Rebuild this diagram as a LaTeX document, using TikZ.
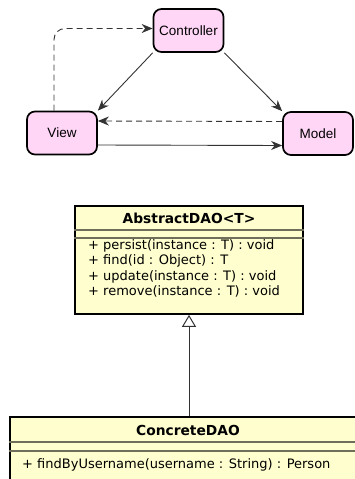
\documentclass[tikz,border=0pt]{standalone}
\usepackage{fontspec}
\newfontfamily\mvcfont{Liberation Sans}
\newfontfamily\umlfont{DejaVu Sans}
\usetikzlibrary{arrows.meta,positioning}

\definecolor{mvcpink}{RGB}{255,214,246}
\definecolor{umlyellow}{RGB}{254,254,206}
\definecolor{umlrule}{RGB}{110,110,90}
\definecolor{edgegray}{RGB}{51,51,51}

\tikzset{
  mvcnode/.style={draw=black, fill=mvcpink, line width=1.7pt, rounded corners=8pt,
    minimum width=70pt, minimum height=43pt, inner sep=0pt,
    font=\mvcfont\fontsize{13.5}{15}\selectfont},
  flow/.style={draw=edgegray, line width=0.9pt, -{Stealth[length=11pt,width=9pt,inset=3.5pt]}},
  notify/.style={flow, dash pattern=on 6pt off 4pt},
  classbox/.style={draw=black, fill=umlyellow, line width=1.7pt, inner sep=0pt},
  classrule/.style={draw=umlrule, line width=1.2pt},
  classtitle/.style={font=\umlfont\bfseries\fontsize{13.8}{16}\selectfont, inner sep=0pt},
  classops/.style={font=\umlfont\fontsize{13}{15.5}\selectfont, align=left,
    inner sep=0pt, anchor=north west},
  extends/.style={draw=edgegray, line width=1pt, -{Triangle[open, fill=white, length=12pt, width=14pt]}},
}

\begin{document}
\begin{tikzpicture}[x=1pt,y=-1pt]
\useasboundingbox (0,0) rectangle (355,479);
\clip (0,0) rectangle (355,479);

% Draw the MVC triangle
\node[mvcnode] (ctrl) at (188.5,30.5) {Controller};
\node[mvcnode] (view) at (62,133) {View};
\node[mvcnode] (model) at (318,133.5) {Model};

% Connectors between the parts
\draw[flow] (ctrl.south west) -- (view.north east);
\draw[flow] (ctrl.south east) -- (model.north west);
\draw[flow] ([yshift=-12pt]view.east) -- ([yshift=-12pt]model.west);
\draw[notify] ([yshift=12pt]model.west) -- ([yshift=12pt]view.east); % change notification
\draw[notify, rounded corners=11pt] ([xshift=-8pt]view.north) |- ([yshift=2pt]ctrl.west); % user input

% Draw the abstract class
\node[classbox, minimum width=228pt, minimum height=108pt] (abs) at (189,260) {};
\node[classtitle] (absname) at (189,218) {AbstractDAO<T>};
\draw[classrule] (abs.west |- 0,230) -- (abs.east |- 0,230);
\draw[classrule] (abs.west |- 0,238) -- (abs.east |- 0,238);
\node[classops] (absops) at (88,239) {+ persist(instance : T) : void\\
  + find(id : Object) : T\\
  + update(instance : T) : void\\
  + remove(instance : T) : void};

% Draw the concrete class
\node[classbox, minimum width=356pt, minimum height=80pt] (con) at (188,457) {};
\node[classtitle] (conname) at (188,430) {ConcreteDAO};
\draw[classrule] (con.west |- 0,442) -- (con.east |- 0,442);
\draw[classrule] (con.west |- 0,451) -- (con.east |- 0,451);
\node[classops] (conops) at (22,458) {+ findByUsername(username : String) : Person};

% Generalization
\draw[extends] (con.north -| abs.south) -- (abs.south);

\end{tikzpicture}
\end{document}
